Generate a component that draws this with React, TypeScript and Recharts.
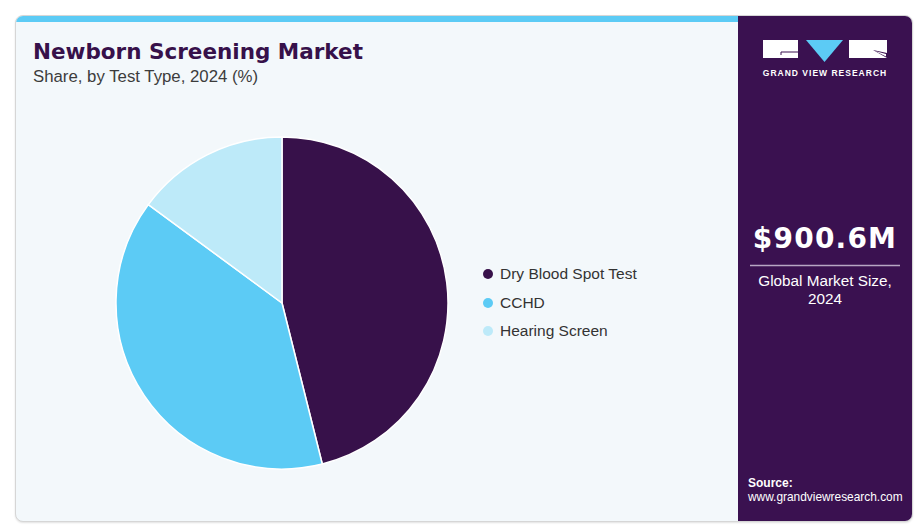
import React from 'react'
import { PieChart, Pie, Cell, Legend } from 'recharts'

// Share by test type, 2024 (%)
const segments = ['Dry Blood Spot Test', 'CCHD', 'Hearing Screen']
const shares = [46.1, 39.0, 14.9]
const colors = ['#37114a', '#5ccbf5', '#bdeaf9']

const data = segments.map((name, i) => ({ name, value: shares[i] }))

const PURPLE = '#3a1150'
const BG = '#f3f8fb'

const LegendList = () => (
    <div style={{ fontFamily: '"Liberation Sans", Arial, sans-serif', fontSize: 15.5, color: '#333' }}>
        {data.map((d, i) => (
            <div key={d.name} style={{ display: 'flex', alignItems: 'center', height: 28.5 }}>
                <span
                    style={{
                        width: 10,
                        height: 10,
                        borderRadius: 5,
                        background: colors[i],
                        display: 'inline-block',
                        marginRight: 7,
                    }}
                />
                <span>{d.name}</span>
            </div>
        ))}
    </div>
)

export default function App() {
    return (
        <div style={{ position: 'fixed', left: 0, top: 0, width: 915, height: 526, background: '#fff', overflow: 'hidden' }}>
            {/* card */}
            <div
                style={{
                    position: 'absolute',
                    left: 15,
                    top: 15,
                    width: 896,
                    height: 505,
                    borderRadius: 8,
                    border: '1px solid #d6d6d6',
                    background: BG,
                    boxShadow: '0 1px 2px rgba(0,0,0,0.12)',
                    overflow: 'hidden',
                }}
            >
                <div style={{ position: 'absolute', left: 0, top: 0, width: 722, height: 6, background: '#5ccbf5' }} />
                <div style={{ position: 'absolute', left: 722, top: 0, width: 174, height: 505, background: PURPLE }} />
            </div>

            {/* texts + logo */}
            <svg width={915} height={526} style={{ position: 'absolute', left: 0, top: 0 }}>
                <text x={33} y={58.5} fontFamily='"DejaVu Sans", sans-serif' fontWeight="bold" fontSize={21.5} fill="#37114a">
                    Newborn Screening Market
                </text>
                <text x={33} y={82} fontFamily='"Liberation Sans", Arial, sans-serif' fontSize={16.8} fill="#3c3c3c">
                    Share, by Test Type, 2024 (%)
                </text>

                {/* logo */}
                <rect x={763} y={40} width={35} height={18} fill="#fff" />
                <polyline points="798,52 781,52 781,55" fill="none" stroke={PURPLE} strokeWidth={1} />
                <polygon points="806,40 843,40 824.5,62" fill="#5ccbf5" />
                <rect x={849} y={40} width={38} height={18} fill="#fff" />
                <polygon points="873,50 887,53 887,58" fill={PURPLE} />
                <polygon points="875,51 886,54 886,56.5" fill="#fff" />
                <text x={825} y={76} textAnchor="middle" fontFamily='"Liberation Sans", Arial, sans-serif' fontWeight="bold" fontSize={8.5} letterSpacing={1} fill="#fff">
                    GRAND VIEW RESEARCH
                </text>

                <text x={825} y={248} textAnchor="middle" fontFamily='"DejaVu Sans", sans-serif' fontWeight="bold" fontSize={28} letterSpacing={1.2} fill="#fff">
                    $900.6M
                </text>
                <line x1={750} x2={900} y1={265.5} y2={265.5} stroke="#b7a6c3" strokeWidth={1.5} />
                <text x={825} y={286} textAnchor="middle" fontFamily='"Liberation Sans", Arial, sans-serif' fontSize={15.3} fill="#fff">
                    Global Market Size,
                </text>
                <text x={825} y={304} textAnchor="middle" fontFamily='"Liberation Sans", Arial, sans-serif' fontSize={15.3} fill="#fff">
                    2024
                </text>

                <text x={748} y={487} fontFamily='"Liberation Sans", Arial, sans-serif' fontWeight="bold" fontSize={12} fill="#fff">
                    Source:
                </text>
                <text x={748} y={501} fontFamily='"Liberation Sans", Arial, sans-serif' fontSize={11.9} fill="#fff">
                    www.grandviewresearch.com
                </text>
            </svg>

            <div style={{ position: 'absolute', left: 0, top: 0 }}>
                <PieChart width={737} height={526} margin={{ top: 0, right: 0, bottom: 0, left: 0 }}>
                    <Pie
                        data={data}
                        dataKey="value"
                        nameKey="name"
                        cx={282}
                        cy={303}
                        outerRadius={166}
                        startAngle={90}
                        endAngle={-270}
                        stroke="#ffffff"
                        strokeWidth={1.5}
                        isAnimationActive={false}
                    >
                        {data.map((d, i) => (
                            <Cell key={d.name} fill={colors[i]} />
                        ))}
                    </Pie>
                    <Legend
                        layout="vertical"
                        content={<LegendList />}
                        wrapperStyle={{ position: 'absolute', left: 483, top: 260, width: 200 }}
                    />
                </PieChart>
            </div>
        </div>
    )
}
